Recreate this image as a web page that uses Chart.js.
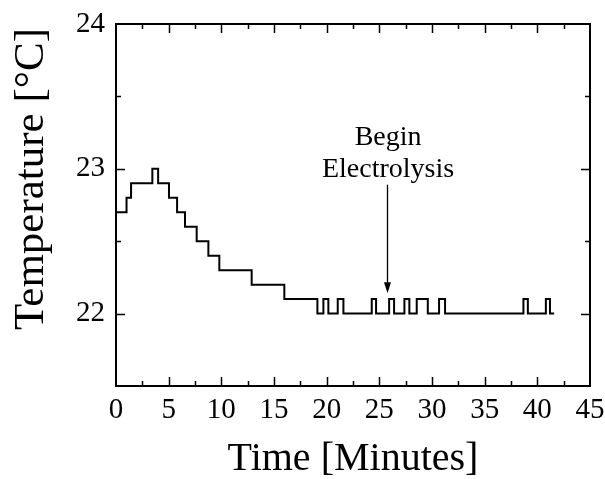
<!DOCTYPE html>
<html>
<head>
<meta charset="utf-8">
<script src="https://cdn.jsdelivr.net/npm/chart.js@4"></script>
<style>
  html, body { margin: 0; padding: 0; background: #fff; }
  #wrap { width: 605px; height: 479px; }
</style>
</head>
<body>
<div id="wrap"><canvas id="chart" width="605" height="479"></canvas></div>
<script>
"use strict";

// ---------- Data ----------
// time in minutes where the reading changes, and the reading held from there on
const times = [0, 1.0, 1.43, 3.45, 4.0, 5.03, 5.8, 6.55, 7.66, 8.77, 9.81, 12.88, 15.98,
  19.12, 19.69, 20.16, 21.05, 21.59, 24.28, 24.69, 25.93, 26.4, 27.38, 27.85, 28.55, 29.6,
  30.67, 31.24, 38.68, 39.1, 40.81, 41.2, 41.6];
const temps = [22.7, 22.8, 22.9, 23.0, 22.9, 22.8, 22.7, 22.6, 22.5, 22.4, 22.3, 22.2, 22.1,
  22.0, 22.1, 22.0, 22.1, 22.0, 22.1, 22.0, 22.1, 22.0, 22.1, 22.0, 22.1, 22.0,
  22.1, 22.0, 22.1, 22.0, 22.1, 22.0, 22.0];

const xLabels = [0, 5, 10, 15, 20, 25, 30, 35, 40, 45];
const xTickMarks = [2.5, 5, 7.5, 10, 12.5, 15, 17.5, 20, 22.5, 25, 27.5, 30, 32.5, 35, 37.5, 40, 42.5];
const yLabels = [22, 23, 24];
const yTickMarks = [22, 22.5, 23, 23.5];

const xTitle = "Time [Minutes]";
const yTitle = "Temperature [°C]";

const noteLines = ["Begin", "Electrolysis"];
const noteAt = { x: 25.83, y: 23.164 };      // baseline of first line
const arrowFrom = { x: 25.7, y: 22.89 };
const arrowTo = { x: 25.7, y: 22.14 };

const FONT = "'Liberation Serif', 'Times New Roman', serif";

// ---------- Plugins ----------
const frameTicks = {
  id: "frameTicks",
  afterDatasetsDraw(chart) {
    const { ctx, chartArea: a, scales: { x, y } } = chart;
    ctx.save();
    ctx.strokeStyle = "#000";
    ctx.lineWidth = 2;
    ctx.strokeRect(a.left, a.top, a.right - a.left, a.bottom - a.top);
    ctx.lineWidth = 1.5;
    ctx.beginPath();
    xTickMarks.forEach((v) => {
      const px = Math.round(x.getPixelForValue(v)) + 0.5;
      const len = v % 5 === 0 ? 9 : 5;
      ctx.moveTo(px, a.bottom); ctx.lineTo(px, a.bottom - len);
      ctx.moveTo(px, a.top); ctx.lineTo(px, a.top + len);
    });
    yTickMarks.forEach((v) => {
      const py = Math.round(y.getPixelForValue(v)) + 0.5;
      const len = v % 1 === 0 ? 9 : 5;
      ctx.moveTo(a.left, py); ctx.lineTo(a.left + len, py);
      ctx.moveTo(a.right, py); ctx.lineTo(a.right - len, py);
    });
    ctx.stroke();
    ctx.restore();
  },
};

// axis titles placed by hand, the y one sits above the plot centre in the original
const titles = {
  id: "titles",
  afterDraw(chart) {
    const { ctx, chartArea: a } = chart;
    ctx.save();
    ctx.fillStyle = "#000";
    ctx.textAlign = "center";
    ctx.textBaseline = "alphabetic";
    ctx.font = `40px ${FONT}`;
    ctx.fillText(xTitle, (a.left + a.right) / 2, 470);
    ctx.font = `43px ${FONT}`;
    ctx.translate(43, 179);
    ctx.rotate(-Math.PI / 2);
    ctx.fillText(yTitle, 0, 0);
    ctx.restore();
  },
};

const note = {
  id: "note",
  afterDatasetsDraw(chart) {
    const { ctx, scales: { x, y } } = chart;
    ctx.save();
    ctx.fillStyle = "#000";
    ctx.font = `28px ${FONT}`;
    ctx.textAlign = "center";
    ctx.textBaseline = "alphabetic";
    const tx = x.getPixelForValue(noteAt.x);
    const ty = y.getPixelForValue(noteAt.y);
    noteLines.forEach((s, i) => ctx.fillText(s, tx, ty + i * 32));

    const ax = Math.round(x.getPixelForValue(arrowFrom.x)) + 0.5;
    const ay0 = y.getPixelForValue(arrowFrom.y);
    const ay1 = y.getPixelForValue(arrowTo.y);
    ctx.strokeStyle = "#000";
    ctx.lineWidth = 1.3;
    ctx.beginPath();
    ctx.moveTo(ax, ay0);
    ctx.lineTo(ax, ay1 - 8);
    ctx.stroke();
    ctx.beginPath();
    ctx.moveTo(ax, ay1);
    ctx.lineTo(ax - 3.5, ay1 - 11);
    ctx.lineTo(ax + 3.5, ay1 - 11);
    ctx.closePath();
    ctx.fill();
    ctx.restore();
  },
};

// ---------- Chart ----------
Chart.defaults.color = "#000";
Chart.defaults.font.family = FONT;

new Chart(document.getElementById("chart"), {
  type: "line",
  data: {
    datasets: [{
      data: times.map((t, i) => ({ x: t, y: temps[i] })),
      borderColor: "#000",
      borderWidth: 2,
      stepped: true,
      pointRadius: 0,
      fill: false,
    }],
  },
  options: {
    responsive: false,
    animation: false,
    events: [],
    layout: { padding: { top: 24, right: 15, left: 0, bottom: 0 } },
    plugins: { legend: { display: false }, tooltip: { enabled: false } },
    scales: {
      x: {
        type: "linear",
        min: 0,
        max: 45,
        grid: { display: false, drawTicks: false },
        border: { display: false },
        afterBuildTicks: (s) => { s.ticks = xLabels.map((v) => ({ value: v })); },
        afterFit: (s) => { s.height = 93; s.paddingLeft = 0; s.paddingRight = 0; },
        ticks: { padding: 7, maxRotation: 0, autoSkip: false, font: { size: 29 } },
      },
      y: {
        type: "linear",
        min: 21.5,
        max: 24,
        grid: { display: false, drawTicks: false },
        border: { display: false },
        afterBuildTicks: (s) => { s.ticks = yLabels.map((v) => ({ value: v })); },
        afterFit: (s) => { s.width = 116; s.paddingTop = 0; s.paddingBottom = 0; },
        ticks: { padding: 11, autoSkip: false, font: { size: 29 } },
      },
    },
  },
  plugins: [frameTicks, note, titles],
});
</script>
</body>
</html>
